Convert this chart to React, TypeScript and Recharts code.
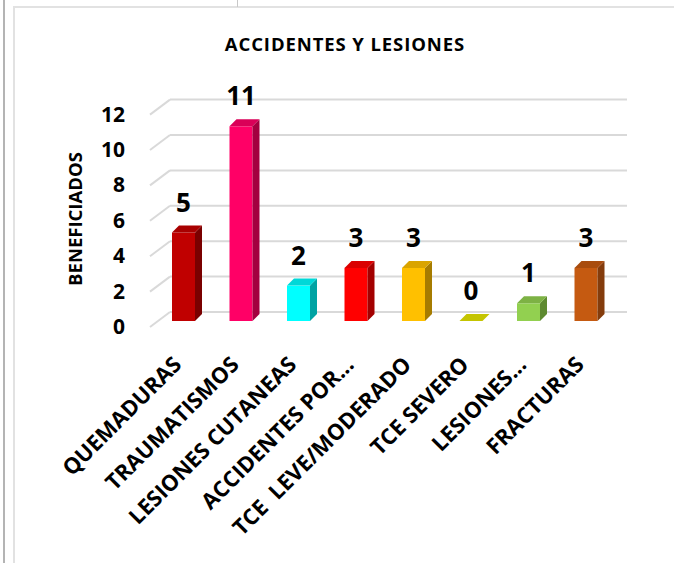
import React from 'react';
import { BarChart, Bar, XAxis, YAxis, CartesianGrid } from 'recharts';

const categories = [
  'QUEMADURAS',
  'TRAUMATISMOS',
  'LESIONES CUTANEAS',
  'ACCIDENTES POR...',
  'TCE  LEVE/MODERADO',
  'TCE SEVERO',
  'LESIONES...',
  'FRACTURAS',
];
const beneficiados = [5, 11, 2, 3, 3, 0, 1, 3];
const yTicks = [0, 2, 4, 6, 8, 10, 12];

const chartTitle = 'ACCIDENTES Y LESIONES';
const yAxisTitle = 'BENEFICIADOS';

const data = categories.map((name, i) => ({ name, value: beneficiados[i] }));

const FRONT = ['#C00000', '#FF0066', '#00FFFF', '#FF0000', '#FFC000', '#CCCC00', '#92D050', '#C55A11'];
const TOP = ['#A80000', '#DA0058', '#00D8D8', '#DA0000', '#DAA400', '#C4C400', '#7DB244', '#A84C0E'];
const SIDE = ['#7A0000', '#A3003F', '#00A3A3', '#A30000', '#A67C00', '#9A9A00', '#5E8A30', '#843C0C'];

const DX = 7;
const DY = 7;
const FONT = '"Open Sans", Lato, sans-serif';

const Bar3D = (props: any) => {
  const { x, y, width, height, index } = props;
  const h = Math.max(0, height || 0);
  const x2 = x + width;
  return (
    <g>
      {h > 0 && <rect x={x} y={y} width={width} height={h} fill={FRONT[index]} />}
      {h > 0 && (
        <polygon
          points={`${x2},${y} ${x2 + DX},${y - DY} ${x2 + DX},${y + h - DY} ${x2},${y + h}`}
          fill={SIDE[index]}
        />
      )}
      <polygon
        points={`${x},${y} ${x + DX},${y - DY} ${x2 + DX},${y - DY} ${x2},${y}`}
        fill={TOP[index]}
      />
    </g>
  );
};

const ValueLabel = (props: any) => {
  const { x, y, width, value } = props;
  return (
    <text
      x={x + width / 2}
      y={y - 21}
      textAnchor="middle"
      fontFamily={FONT}
      fontWeight={700}
      fontSize={26}
      fill="#000"
    >
      {value}
    </text>
  );
};

const CatTick = (props: any) => {
  const { x, payload } = props;
  const ax = x - 1;
  const ay = 366;
  return (
    <text
      x={ax}
      y={ay}
      transform={`rotate(-45 ${ax} ${ay})`}
      textAnchor="end"
      fontFamily={FONT}
      fontWeight={700}
      fontSize={22}
      fill="#000"
      style={{ whiteSpace: 'pre' }}
    >
      {payload.value}
    </text>
  );
};

const ValTick = (props: any) => {
  const { y, payload } = props;
  return (
    <text
      x={125}
      y={y + 5}
      textAnchor="end"
      dominantBaseline="central"
      fontFamily={FONT}
      fontWeight={700}
      fontSize={21}
      fill="#000"
    >
      {payload.value}
    </text>
  );
};

const GridLine = (p: any) => {
  const y = p.y1;
  return (
    <g key={p.key}>
      <line x1={150} y1={y + 6} x2={170} y2={y - 9} stroke="#D9D9D9" strokeWidth={2} />
      <line x1={170} y1={y - 9} x2={627} y2={y - 9} stroke="#D9D9D9" strokeWidth={2} />
    </g>
  );
};

export default function App() {
  return (
    <div style={{ position: 'absolute', left: 0, top: 0, width: 674, height: 563, background: '#fff' }}>
      <div style={{ position: 'absolute', left: 3, top: 0, width: 2, height: 563, background: '#B4B4B4' }} />
      <div style={{ position: 'absolute', left: 13, top: 6, width: 2, height: 557, background: '#E2E2E2' }} />
      <div style={{ position: 'absolute', left: 13, top: 6, width: 661, height: 2, background: '#E2E2E2' }} />
      <div style={{ position: 'absolute', left: 237, top: 0, width: 1, height: 7, background: '#C8C8C8' }} />
      <div style={{ position: 'absolute', left: 0, top: 0 }}>
        <BarChart
          width={674}
          height={563}
          data={data}
          margin={{ top: 108.6, right: 59, bottom: 212, left: 115 }}
        >
          <CartesianGrid horizontal={GridLine as any} vertical={false} />
          <XAxis
            dataKey="name"
            height={30}
            interval={0}
            axisLine={false}
            tickLine={false}
            tick={<CatTick />}
          />
          <YAxis
            width={40}
            domain={[0, 12]}
            ticks={yTicks}
            axisLine={false}
            tickLine={false}
            tick={<ValTick />}
          />
          <Bar
            dataKey="value"
            barSize={23}
            isAnimationActive={false}
            shape={<Bar3D />}
            label={<ValueLabel />}
          />
        </BarChart>
      </div>
      <svg style={{ position: 'absolute', left: 0, top: 0 }} width={674} height={563} pointerEvents="none">
        <text
          x={345}
          y={51}
          textAnchor="middle"
          fontFamily={FONT}
          fontWeight={700}
          fontSize={18.5}
          letterSpacing={0.9}
          fill="#000"
        >
          {chartTitle}
        </text>
        <text
          x={82}
          y={219}
          transform="rotate(-90 82 219)"
          textAnchor="middle"
          fontFamily={FONT}
          fontWeight={700}
          fontSize={18.5}
          fill="#000"
        >
          {yAxisTitle}
        </text>
      </svg>
    </div>
  );
}
